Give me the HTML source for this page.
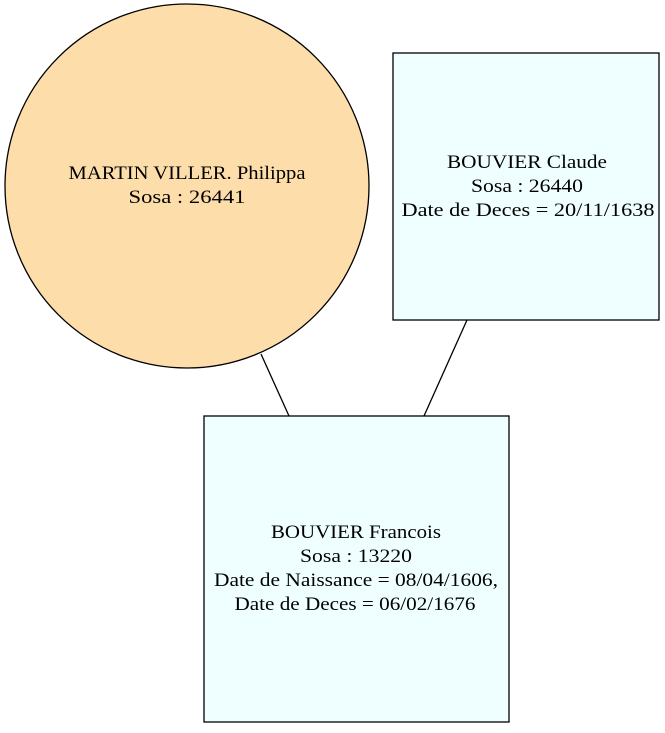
<!DOCTYPE html>
<html><head><style>body{margin:0;background:#fff}</style></head>
<body>
<svg width="665" height="728" xmlns="http://www.w3.org/2000/svg" font-family="Liberation Serif, serif" font-size="19" text-anchor="middle">
<rect width="665" height="728" fill="#fff"/>
<line x1="261" y1="354" x2="289" y2="416" stroke="#000" stroke-width="1.3"/>
<line x1="467" y1="320" x2="424" y2="416" stroke="#000" stroke-width="1.3"/>
<circle cx="187" cy="186" r="182" fill="#fdddaa" stroke="#000" stroke-width="1.3"/>
<text x="187" y="179" textLength="237" lengthAdjust="spacingAndGlyphs">MARTIN VILLER. Philippa</text>
<text x="187" y="203" textLength="117" lengthAdjust="spacingAndGlyphs">Sosa : 26441</text>
<rect x="393" y="53" width="266" height="267" fill="#efffff" stroke="#000" stroke-width="1.3"/>
<text x="527" y="168" textLength="160" lengthAdjust="spacingAndGlyphs">BOUVIER Claude</text>
<text x="527" y="192" textLength="112" lengthAdjust="spacingAndGlyphs">Sosa : 26440</text>
<text x="528" y="216" textLength="253" lengthAdjust="spacingAndGlyphs">Date de Deces = 20/11/1638</text>
<rect x="204" y="416" width="305" height="306" fill="#efffff" stroke="#000" stroke-width="1.3"/>
<text x="356" y="538" textLength="170" lengthAdjust="spacingAndGlyphs">BOUVIER Francois</text>
<text x="356" y="562" textLength="112" lengthAdjust="spacingAndGlyphs">Sosa : 13220</text>
<text x="356" y="586" textLength="284" lengthAdjust="spacingAndGlyphs">Date de Naissance = 08/04/1606,</text>
<text x="355" y="610" textLength="241" lengthAdjust="spacingAndGlyphs">Date de Deces = 06/02/1676</text>
</svg>
</body></html>
